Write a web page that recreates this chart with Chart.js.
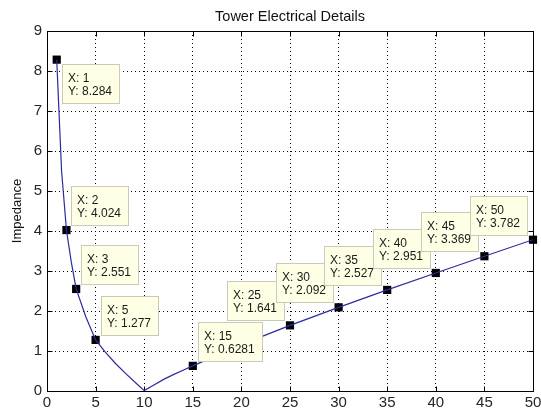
<!DOCTYPE html>
<html lang="en">
<head>
  <meta charset="UTF-8" />
  <title>Tower Electrical Details</title>
  <script src="https://cdn.jsdelivr.net/npm/chart.js"></script>
  <style>
    body { margin: 0; background: #fff; }
    #wrap { width: 541px; height: 414px; }
  </style>
</head>
<body>
  <div id="wrap"><canvas id="impChart" width="541" height="414"></canvas></div>

  <script>
    // curve
    const xVals = [1, 1.5, 2, 2.5, 3, 4, 5, 6, 7, 8, 9, 10, 11, 12, 13, 14, 15, 20, 25, 30, 35, 40, 45, 50];
    const impedance = [8.284, 5.5, 4.024, 3.22, 2.551, 1.85, 1.277, 0.97, 0.7, 0.46, 0.23, 0.01, 0.15, 0.29, 0.41, 0.52, 0.6281, 1.16, 1.641, 2.092, 2.527, 2.951, 3.369, 3.782];

    // data tips on the figure
    const tipX = [1, 2, 3, 5, 15, 25, 30, 35, 40, 45, 50];
    const tipY = [8.284, 4.024, 2.551, 1.277, 0.6281, 1.641, 2.092, 2.527, 2.951, 3.369, 3.782];

    const xTicks = [0, 5, 10, 15, 20, 25, 30, 35, 40, 45, 50];
    const yTicks = [0, 1, 2, 3, 4, 5, 6, 7, 8, 9];

    // which side of the marker each tip box sits on
    const tipSide = ['below', 'right', 'right', 'right', 'right', 'left', 'left', 'left', 'left', 'left', 'left'];

    const FONT = '"Liberation Sans", Arial, sans-serif';

    const matlabAxes = {
      id: 'matlabAxes',
      beforeDatasetsDraw(chart) {
        const { ctx, chartArea: a, scales: { x, y } } = chart;
        const L = Math.round(a.left) + 0.5, R = Math.round(a.right) + 0.5;
        const T = Math.round(a.top) + 0.5, B = Math.round(a.bottom) + 0.5;
        ctx.save();
        ctx.strokeStyle = '#000';
        ctx.lineWidth = 1;
        ctx.strokeRect(L, T, R - L, B - T);
        ctx.beginPath();
        xTicks.forEach(v => {
          const px = Math.round(x.getPixelForValue(v)) + 0.5;
          ctx.moveTo(px, B); ctx.lineTo(px, B - 5);
          ctx.moveTo(px, T); ctx.lineTo(px, T + 5);
        });
        yTicks.forEach(v => {
          const py = Math.round(y.getPixelForValue(v)) + 0.5;
          ctx.moveTo(L, py); ctx.lineTo(L + 5, py);
          ctx.moveTo(R, py); ctx.lineTo(R - 5, py);
        });
        ctx.stroke();
        ctx.restore();
      },
      afterDraw(chart) {
        const { ctx, scales: { x, y } } = chart;
        ctx.save();
        ctx.font = '12px ' + FONT;
        tipX.forEach((xv, i) => {
          const px = x.getPixelForValue(xv);
          const py = y.getPixelForValue(tipY[i]);
          const l1 = 'X: ' + xv, l2 = 'Y: ' + tipY[i];
          const w = Math.round(Math.max(ctx.measureText(l1).width, ctx.measureText(l2).width) + 13);
          const h = 39;
          let left, top;
          if (tipSide[i] === 'left') { left = px - 6 - w; top = py - 44; }
          else if (tipSide[i] === 'below') { left = px + 5; top = py + 4; }
          else { left = px + 5; top = py - 44; }
          left = Math.round(left) + 0.5; top = Math.round(top) + 0.5;
          ctx.fillStyle = '#ffffe6';
          ctx.fillRect(left, top, w, h);
          ctx.strokeStyle = '#cacab8';
          ctx.lineWidth = 1;
          ctx.strokeRect(left, top, w, h);
          ctx.fillStyle = '#1a1a1a';
          ctx.textBaseline = 'alphabetic';
          ctx.fillText(l1, left + 5.5, top + 17.5);
          ctx.fillText(l2, left + 5.5, top + 30.5);
        });
        ctx.restore();
      }
    };

    new Chart(document.getElementById('impChart'), {
      type: 'line',
      data: {
        datasets: [
          {
            data: xVals.map((v, i) => ({ x: v, y: impedance[i] })),
            borderColor: '#2b2b9e',
            borderWidth: 1.2,
            pointRadius: 0,
            tension: 0
          },
          {
            data: tipX.map((v, i) => ({ x: v, y: tipY[i] })),
            showLine: false,
            pointStyle: 'rect',
            pointRadius: 5.8,
            backgroundColor: '#000',
            borderColor: '#000',
            borderWidth: 0,
            clip: false
          }
        ]
      },
      options: {
        responsive: false,
        animation: false,
        layout: { padding: { top: 0, right: 8, bottom: 0, left: 0 } },
        plugins: {
          legend: { display: false },
          tooltip: { enabled: false },
          title: {
            display: true,
            fullSize: false,
            text: 'Tower Electrical Details',
            color: '#111',
            font: { family: FONT, size: 14.5, weight: 'normal' },
            padding: { top: 8, bottom: 5.6 }
          }
        },
        scales: {
          x: {
            type: 'linear',
            min: xTicks[0],
            max: xTicks[xTicks.length - 1],
            afterBuildTicks: s => { s.ticks = xTicks.map(v => ({ value: v })); },
            afterFit: s => { s.height = 23; s.paddingLeft = 0; s.paddingRight = 0; },
            grid: { color: '#000', lineWidth: 1, drawTicks: false },
            border: { display: false, dash: [1, 3] },
            ticks: { color: '#262626', font: { family: FONT, size: 15 }, padding: 3, maxRotation: 0 }
          },
          y: {
            min: yTicks[0],
            max: yTicks[yTicks.length - 1],
            afterBuildTicks: s => { s.ticks = yTicks.map(v => ({ value: v })); },
            afterFit: s => { s.width = 47; },
            grid: { color: '#000', lineWidth: 1, drawTicks: false },
            border: { display: false, dash: [1, 3] },
            ticks: { color: '#262626', font: { family: FONT, size: 15 }, padding: 5 },
            title: {
              display: true,
              text: 'Impedance',
              color: '#111',
              font: { family: FONT, size: 13 },
              padding: { top: 10, bottom: 0 }
            }
          }
        }
      },
      plugins: [matlabAxes]
    });
  </script>
</body>
</html>
